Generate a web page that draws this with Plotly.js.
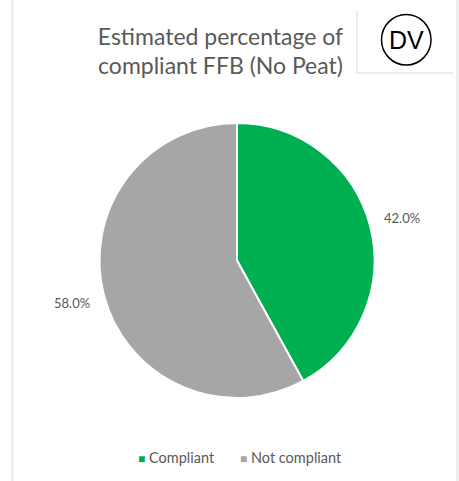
<!DOCTYPE html>
<html>
<head>
<meta charset="utf-8">
<script src="https://cdn.plot.ly/plotly-3.0.1.min.js"></script>
<style>
html,body{margin:0;padding:0;background:#fff;}
#chart{width:459px;height:481px;}
</style>
</head>
<body>
<div id="chart"></div>
<script>
var categories = ["Compliant", "Not compliant"];
var values = [42.0, 58.0];
var colors = ["#00B050", "#A6A6A6"];
var titleText = "Estimated percentage of<br>compliant FFB (No Peat)";
var badgeText = "DV";

var FONT = "Lato, 'Open Sans', sans-serif";
var W = 459, H = 481;
var cx = 237, cy = 260.5, r = 137.5;
var labelR = r + 33;

var traces = [{
  type: "pie",
  labels: categories,
  values: values,
  marker: {colors: colors, line: {color: "#ffffff", width: 2}},
  sort: false,
  direction: "clockwise",
  rotation: 0,
  textinfo: "none",
  hoverinfo: "none",
  showlegend: false,
  automargin: false,
  domain: {x: [(cx - r) / W, (cx + r) / W], y: [(H - cy - r) / H, (H - cy + r) / H]}
}];

var annotations = [];
// data labels placed radially at slice mid-angles
var total = values.reduce(function (a, b) { return a + b; }, 0);
var cum = 0;
values.forEach(function (v, i) {
  var mid = (cum + v / 2) / total * 2 * Math.PI;
  cum += v;
  var px = cx + labelR * Math.sin(mid);
  var py = cy - labelR * Math.cos(mid);
  annotations.push({
    text: (v / total * 100).toFixed(1) + "%",
    xref: "paper", yref: "paper",
    x: px / W, y: 1 - py / H,
    xanchor: "center", yanchor: "middle",
    showarrow: false,
    font: {family: FONT, size: 13, color: "#595959"}
  });
});

// legend
var legendX = [136, 238];
categories.forEach(function (c, i) {
  annotations.push({
    text: "<span style='color:" + colors[i] + ";font-size:12px'>■</span> " + c,
    xref: "paper", yref: "paper",
    x: legendX[i] / W, y: 1 - 457 / H,
    xanchor: "left", yanchor: "middle",
    showarrow: false,
    font: {family: FONT, size: 14.5, color: "#595959"}
  });
});

annotations.push({
  text: badgeText,
  xref: "paper", yref: "paper",
  x: 406 / W, y: 1 - 40 / H,
  xanchor: "center", yanchor: "middle",
  showarrow: false,
  font: {family: "'Liberation Sans', Arial, sans-serif", size: 25, color: "#000000"}
});

var layout = {
  width: W, height: H,
  margin: {l: 0, r: 0, t: 0, b: 0},
  paper_bgcolor: "#ffffff",
  font: {family: FONT, color: "#595959"},
  title: {
    text: titleText,
    font: {family: FONT, size: 23, color: "#595959"},
    x: 220.5 / W, xanchor: "center",
    y: 1 - 44.5 / H, yanchor: "top"
  },
  showlegend: false,
  annotations: annotations,
  shapes: [
    {type: "line", xref: "paper", yref: "paper", x0: 12.5 / W, x1: 12.5 / W, y0: 0, y1: 1, line: {color: "#E8E8E8", width: 2}},
    {type: "line", xref: "paper", yref: "paper", x0: 457.5 / W, x1: 457.5 / W, y0: 0, y1: 1, line: {color: "#E8E8E8", width: 2}},
    {type: "line", xref: "paper", yref: "paper", x0: 357 / W, x1: 357 / W, y0: 1 - 10 / H, y1: 1 - 73 / H, line: {color: "#D9D9D9", width: 1}},
    {type: "line", xref: "paper", yref: "paper", x0: 357 / W, x1: 453 / W, y0: 1 - 73 / H, y1: 1 - 73 / H, line: {color: "#D9D9D9", width: 1}},
    {type: "circle", xref: "paper", yref: "paper", x0: 381.5 / W, x1: 431 / W, y0: 1 - 14.5 / H, y1: 1 - 65 / H, line: {color: "#000000", width: 1.5}}
  ]
};

Plotly.newPlot("chart", traces, layout, {displayModeBar: false, staticPlot: true});
</script>
</body>
</html>
